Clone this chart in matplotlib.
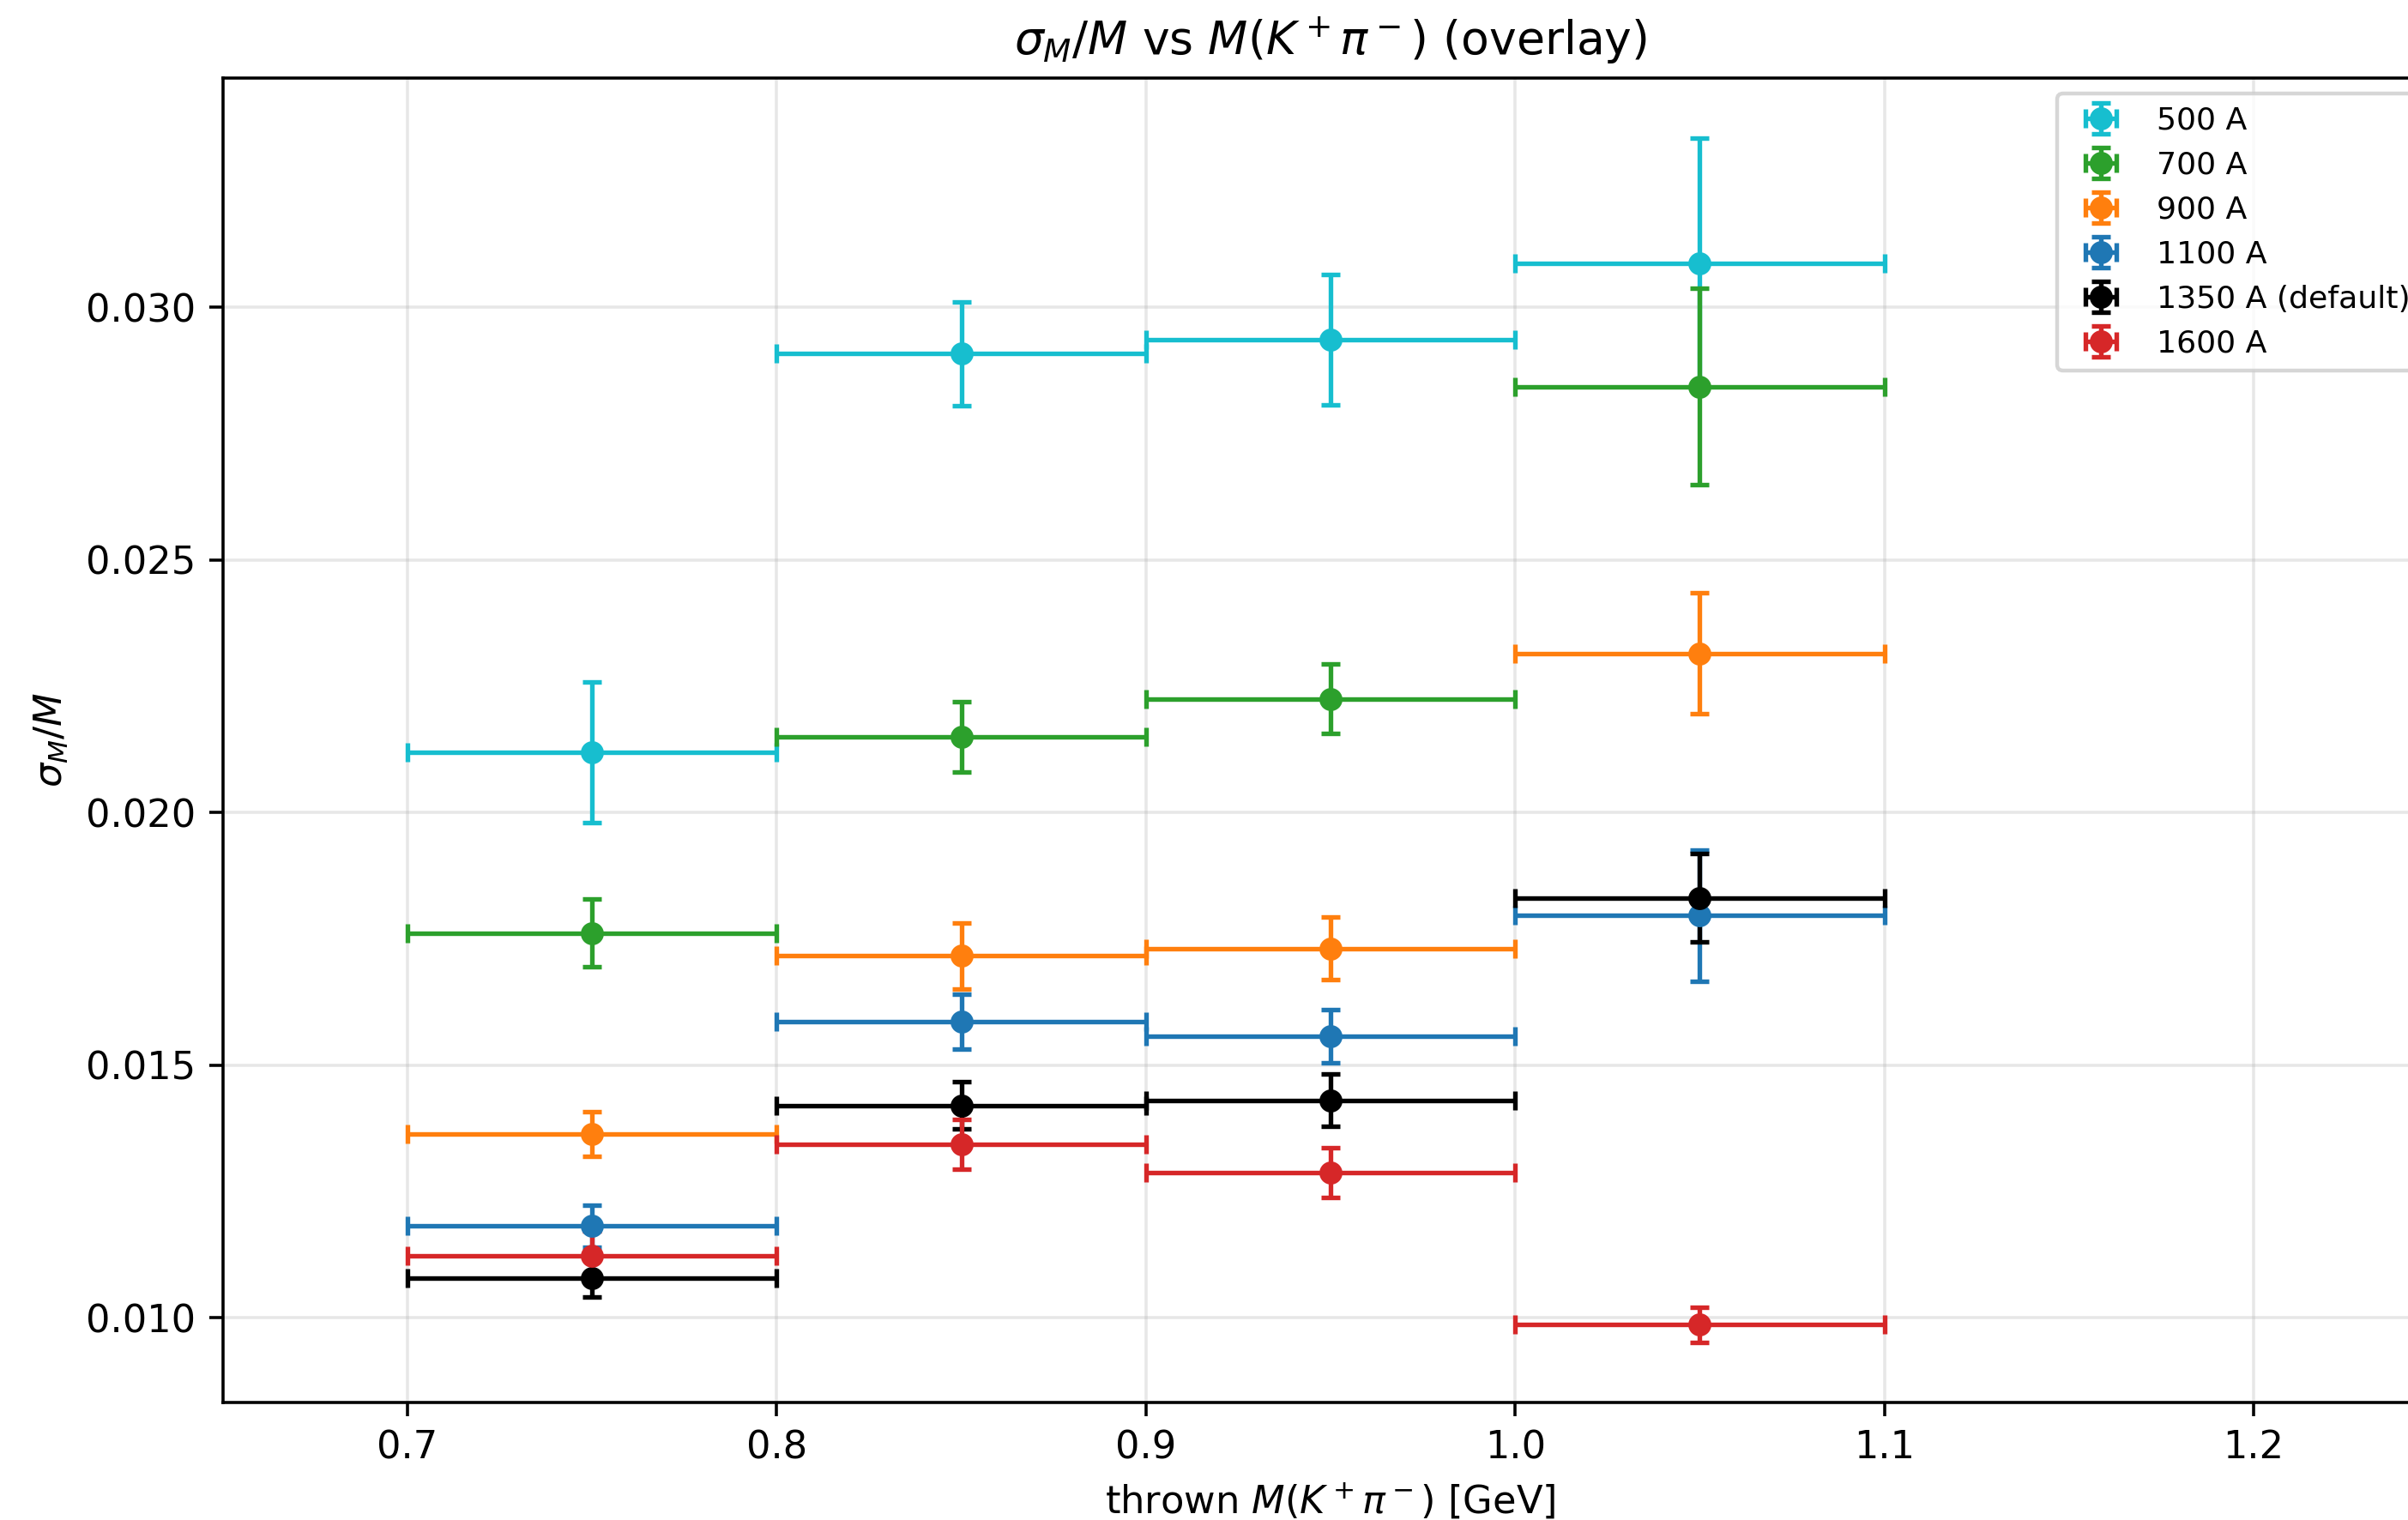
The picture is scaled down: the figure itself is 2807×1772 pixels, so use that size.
import numpy as np
import matplotlib
matplotlib.use('Agg')
import matplotlib.pyplot as plt

# bin centres and half-widths of thrown M(K+ pi-) [GeV]
mass_centres = [0.75, 0.85, 0.95, 1.05]
mass_halfwidth = [0.05, 0.05, 0.05, 0.05]

# sigma_M / M per magnet current, with uncertainties
res_500 = [0.02119, 0.02908, 0.02936, 0.03086]
err_500 = [0.00140, 0.00103, 0.00129, 0.00249]

res_700 = [0.01761, 0.02150, 0.02225, 0.02843]
err_700 = [0.00067, 0.00070, 0.00069, 0.00194]

res_900 = [0.01363, 0.01716, 0.01731, 0.02315]
err_900 = [0.00044, 0.00065, 0.00062, 0.00120]

res_1100 = [0.01181, 0.01586, 0.01557, 0.01796]
err_1100 = [0.00042, 0.00054, 0.00052, 0.00130]

res_1350 = [0.01078, 0.01420, 0.01430, 0.01831]
err_1350 = [0.00037, 0.00047, 0.00052, 0.00088]

res_1600 = [0.01123, 0.01343, 0.01287, 0.00986]
err_1600 = [0.00048, 0.00049, 0.00050, 0.00035]

labels = ['500 A', '700 A', '900 A', '1100 A', '1350 A (default)', '1600 A']
colors = ['tab:cyan', 'tab:green', 'tab:orange', 'tab:blue', 'black', 'tab:red']

DPI = 322


def main():
    series = [
        (res_500, err_500),
        (res_700, err_700),
        (res_900, err_900),
        (res_1100, err_1100),
        (res_1350, err_1350),
        (res_1600, err_1600),
    ]

    fig = plt.figure(figsize=(2807 / DPI, 1772 / DPI), dpi=DPI)
    # axes run past the right edge of the canvas, as in the original export
    ax = fig.add_axes([0.09255, 0.07731, 0.92, 0.8715])

    for (y, yerr), label, color in zip(series, labels, colors):
        ax.errorbar(mass_centres, y, xerr=mass_halfwidth, yerr=yerr,
                    fmt='o', color=color, markersize=5, elinewidth=1.2,
                    capsize=2.5, capthick=1.2, label=label)

    ax.set_xlim(0.65, 1.25)
    ax.set_ylim(0.00832, 0.03454)
    ax.set_xticks([0.7, 0.8, 0.9, 1.0, 1.1, 1.2])
    ax.set_yticks([0.010, 0.015, 0.020, 0.025, 0.030])

    ax.grid(True, alpha=0.3)
    ax.set_xlabel(r'thrown $M(K^+\pi^-)$ [GeV]')
    ax.set_ylabel(r'$\sigma_M/M$')
    ax.set_title(r'$\sigma_M/M$ vs $M(K^+\pi^-)$ (overlay)')
    ax.legend(loc='upper right', fontsize=8.1)

    fig.savefig('out.png', dpi=DPI)
    plt.close(fig)


if __name__ == '__main__':
    main()
